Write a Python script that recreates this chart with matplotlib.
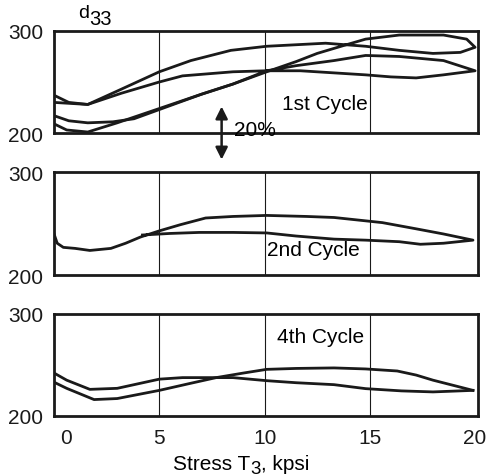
import matplotlib.pyplot as plt
import matplotlib.transforms as mtransforms

plt.rcParams['font.family'] = ['Liberation Sans', 'DejaVu Sans']

# 1st cycle: two loops (load then unload), stress in kpsi, d33
c1a_x = [0, 0.6, 1.6, 3.0, 5.0, 7.0, 8.5, 10.1, 11.5, 12.5, 13.8, 14.8, 16.4, 18.5, 19.6, 20.0,
         19.3, 18.0, 16.4, 14.8, 12.9, 10.1, 8.4, 6.5, 5.0, 3.2, 1.6, 0.7, 0]
c1a_y = [209, 203, 201, 210, 224, 238, 248, 260, 270, 278, 286, 292, 296, 296, 292, 284,
         279, 278, 281, 285, 288, 285, 281, 271, 260, 243, 228, 230, 237]
c1b_x = [0, 0.7, 1.6, 2.8, 3.8, 5.0, 7.0, 8.5, 10.1, 11.5, 13.3, 14.8, 16.4, 18.5, 20.0,
         18.5, 17.2, 16.0, 14.8, 11.7, 10.1, 8.5, 6.1, 5.0, 3.2, 1.6, 0]
c1b_y = [217, 212, 210, 211, 214, 223, 238, 248, 261, 266, 271, 276, 275, 271, 261,
         257, 254, 255, 257, 261, 261, 260, 256, 250, 239, 228, 230]

# 2nd cycle
c2_x = [0, 0.15, 0.44, 1.0, 1.7, 2.7, 3.4, 4.1, 5.0, 6.0, 7.2, 8.5, 10.1, 12.0, 13.3, 15.6, 17.2, 18.5, 19.9,
        18.5, 17.4, 16.4, 14.8, 13.3, 11.5, 10.1, 8.5, 6.9, 5.5, 4.2]
c2_y = [240, 231, 227, 226, 224, 226, 231, 237, 243, 249, 255.5, 257, 258, 257, 256, 251, 245, 240, 234,
        231, 230, 232.5, 234, 235, 238, 241, 241.5, 241.5, 240.5, 239]

# 4th cycle
c4_up_x = [0, 0.6, 1.7, 3.0, 5.0, 6.1, 7.0, 8.5, 10.1, 11.5, 13.3, 14.8, 16.5, 18.0, 19.9]
c4_up_y = [242, 235, 226, 227, 236, 237.5, 237.5, 237.5, 234.5, 232.5, 230.6, 226.7, 224.5, 223.5, 225]
c4_lo_x = [0, 0.6, 1.9, 3.0, 5.0, 6.5, 7.7, 9.0, 10.1, 11.5, 13.3, 14.8, 16.3, 17.2, 18.0, 19.9]
c4_lo_y = [233, 227, 216, 217, 225, 232, 237.5, 242, 245.6, 246.5, 247, 246, 244, 240, 235, 225]

xticks = [0, 5, 10, 15, 20]
yticks = [200, 300]

fs = 15
fig = plt.figure(figsize=(4.87, 4.77), dpi=100)
boxes = [(0.111, 0.719, 0.871, 0.214), (0.111, 0.421, 0.871, 0.216), (0.111, 0.126, 0.871, 0.214)]
axes = [fig.add_axes(b) for b in boxes]

axes[0].plot(c1a_x, c1a_y, color='#1a1a1a', lw=2)
axes[0].plot(c1b_x, c1b_y, color='#1a1a1a', lw=2)
axes[1].plot(c2_x, c2_y, color='#1a1a1a', lw=2)
axes[2].plot(c4_up_x, c4_up_y, color='#1a1a1a', lw=2)
axes[2].plot(c4_lo_x, c4_lo_y, color='#1a1a1a', lw=2)

for i, ax in enumerate(axes):
    ax.set_xlim(0, 20.15)
    ax.set_ylim(200, 300)
    ax.set_yticks(yticks)
    ax.set_xticks(xticks)
    for gx in xticks[1:-1]:
        ax.axvline(gx, color='#1a1a1a', lw=0.8)
    ax.tick_params(length=0, labelsize=fs, pad=8, colors='#1a1a1a')
    ax.tick_params(axis='x', pad=9)
    for sp in ax.spines.values():
        sp.set_linewidth(2)
        sp.set_color('#1a1a1a')
    if i < 2:
        ax.set_xticklabels([])

lab0 = axes[2].get_xticklabels()[0]
lab0.set_transform(lab0.get_transform() + mtransforms.ScaledTranslation(0.12, 0, fig.dpi_scale_trans))

# d33 with a big subscript
td = axes[0].text(1.15, 310, 'd', fontsize=fs - 1, ha='left', va='bottom', clip_on=False)
axes[0].annotate('33', xy=(1, 0), xycoords=td, xytext=(0, -5), textcoords='offset points',
                 fontsize=fs - 0.5, ha='left', va='bottom', annotation_clip=False)

axes[0].text(10.85, 228.5, '1st Cycle', fontsize=fs, ha='left', va='center')
axes[0].annotate('', xy=(7.96, 226), xytext=(7.96, 174), xycoords='data',
                 arrowprops=dict(arrowstyle='<|-|>', color='#1a1a1a', lw=1.8,
                                 mutation_scale=18, shrinkA=0, shrinkB=0),
                 annotation_clip=False)
axes[0].text(8.55, 203, '20%', fontsize=fs, ha='left', va='center', clip_on=False)
axes[1].text(10.1, 224.6, '2nd Cycle', fontsize=fs, ha='left', va='center')
axes[2].text(10.6, 278, '4th Cycle', fontsize=fs, ha='left', va='center')

# x label: Stress T3, kpsi
t1 = fig.text(0.356, 0.007, 'Stress T', fontsize=fs, ha='left', va='bottom')
t2 = axes[2].annotate('3', xy=(1, 0), xycoords=t1, xytext=(0, -3), textcoords='offset points',
                      fontsize=fs - 1.5, ha='left', va='bottom', annotation_clip=False)
axes[2].annotate(', kpsi', xy=(1, 0), xycoords=t2, xytext=(0, 3), textcoords='offset points',
                 fontsize=fs, ha='left', va='bottom', annotation_clip=False)

fig.savefig('out.png', dpi=100)
